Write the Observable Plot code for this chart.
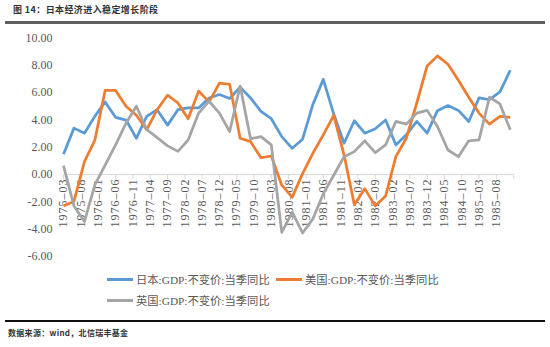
<!DOCTYPE html>
<html><head><meta charset="utf-8">
<script src="https://cdn.jsdelivr.net/npm/d3@7"></script>
<script src="https://cdn.jsdelivr.net/npm/@observablehq/plot@0.6"></script>
<style>
html,body{margin:0;padding:0;background:#fff}
body{width:550px;height:347px;position:relative;overflow:hidden;font-family:"Liberation Serif","Noto Sans CJK SC",serif}
#title{position:absolute;left:13px;top:3.5px;font-family:"Noto Sans CJK SC",sans-serif;font-weight:bold;font-size:9px;line-height:11px;color:#333;letter-spacing:0.4px;white-space:nowrap}
#tline{position:absolute;left:5px;top:21px;width:540px;height:2.5px;background:#5f5f5f}
#chart{position:absolute;left:0;top:25px}
.sw{position:absolute;width:26px;height:3px}
.lt{position:absolute;font-size:11.3px;line-height:14px;color:#595959;white-space:nowrap;font-family:"Liberation Serif","Noto Sans CJK SC",serif}
#bline{position:absolute;left:5px;top:320px;width:540px;height:1.5px;background:#111}
#caption{position:absolute;left:8px;top:327.5px;font-family:"Noto Sans CJK SC",sans-serif;font-weight:bold;font-size:8px;line-height:10px;color:#333;letter-spacing:0.3px;white-space:nowrap}
svg text.xlab{letter-spacing:1px}
</style></head><body>
<div id="title">图 14：日本经济进入稳定增长阶段</div>
<div id="tline"></div>
<div id="chart"></div>
<div class="sw" style="left:107px;top:278px;background:#5b9bd5"></div>
<div class="lt" style="left:136px;top:272.5px">日本:GDP:不变价:当季同比</div>
<div class="sw" style="left:276px;top:278px;background:#ed7d31"></div>
<div class="lt" style="left:305px;top:272.5px">美国:GDP:不变价:当季同比</div>
<div class="sw" style="left:107px;top:299px;background:#a5a5a5"></div>
<div class="lt" style="left:136px;top:293.5px">英国:GDP:不变价:当季同比</div>
<div id="bline"></div>
<div id="caption">数据来源：wind，北信瑞丰基金</div>
<script>
const quarters = ["1975-03","1975-06","1975-09","1975-12","1976-03","1976-06","1976-09","1976-12",
"1977-03","1977-06","1977-09","1977-12","1978-03","1978-06","1978-09","1978-12",
"1979-03","1979-06","1979-09","1979-12","1980-03","1980-06","1980-09","1980-12",
"1981-03","1981-06","1981-09","1981-12","1982-03","1982-06","1982-09","1982-12",
"1983-03","1983-06","1983-09","1983-12","1984-03","1984-06","1984-09","1984-12",
"1985-03","1985-06","1985-09","1985-12"];
const japan = [1.48,3.40,3.03,4.26,5.32,4.19,3.99,2.66,4.26,4.75,3.62,4.75,4.88,4.88,5.61,5.86,
5.57,6.40,5.61,4.63,4.09,2.78,1.92,2.59,5.12,6.97,4.43,2.29,3.94,3.03,3.35,3.99,
2.17,2.91,3.89,3.03,4.68,5.05,4.70,3.89,5.61,5.49,6.06,7.64];
const usa = [-2.31,-1.97,0.95,2.50,6.16,6.16,5.00,4.34,3.28,4.75,5.81,5.24,4.09,6.11,5.32,6.70,
6.60,2.66,2.41,1.23,1.36,-0.78,-1.65,0.07,1.55,2.91,4.34,1.43,-2.21,-1.03,-2.31,-1.57,
1.31,2.66,5.24,7.95,8.69,8.08,6.90,5.66,4.50,3.69,4.26,4.19];
const uk = [0.66,-2.30,-3.44,-0.78,0.69,2.17,3.77,5.00,3.30,2.70,2.10,1.70,2.53,4.50,5.37,4.50,
3.15,6.48,2.61,2.78,2.17,-4.23,-2.75,-4.28,-3.25,-1.40,-0.05,1.31,1.68,2.47,1.60,2.17,
3.89,3.69,4.50,4.70,3.52,1.80,1.31,2.47,2.54,5.66,5.17,3.28];
const seriesNames = ["日本:GDP:不变价:当季同比","美国:GDP:不变价:当季同比","英国:GDP:不变价:当季同比"];
const seriesColors = ["#5b9bd5","#ed7d31","#a5a5a5"];
const xTickLabels = ["1975-03","1975-08","1976-01","1976-06","1976-11","1977-04","1977-09","1978-02",
"1978-07","1978-12","1979-05","1979-10","1980-03","1980-08","1981-01","1981-06","1981-11","1982-04",
"1982-09","1983-02","1983-07","1983-12","1984-05","1984-10","1985-03","1985-08"];
const xAxisEnd = "1986-01";
const yTicks = [-6,-4,-2,0,2,4,6,8,10];

const parse = s => { const [y,m] = s.split("-").map(Number); return new Date(Date.UTC(y, m-1, 1)); };
const values = [japan, usa, uk];
const rows = [];
values.forEach((arr, si) => arr.forEach((v, i) => rows.push({date: parse(quarters[i]), value: v, s: si})));
const tickDates = xTickLabels.map(parse).concat([parse(xAxisEnd)]);
const labelRows = xTickLabels.map(t => ({date: parse(t), text: t.replace("-", "\u2013")}));

const chart = Plot.plot({
  width: 550, height: 245,
  marginLeft: 63, marginRight: 36.7, marginTop: 12.5, marginBottom: 14,
  style: {background: "transparent", fontFamily: "Liberation Serif, serif", fontSize: "12px", color: "#595959", overflow: "visible"},
  x: {type: "utc", domain: [parse(quarters[0]), parse(xAxisEnd)], axis: null},
  y: {domain: [-6, 10], axis: null},
  marks: [
    Plot.axisY({ticks: yTicks, tickSize: 0, tickPadding: 11, tickFormat: d => d.toFixed(2), fontSize: 12, label: null, fill: "#595959"}),
    Plot.ruleY([0], {stroke: "#d9d9d9", strokeWidth: 1}),
    Plot.ruleX(tickDates, {x: d => d, y1: 0, y2: 0, insetBottom: -5, stroke: "#d9d9d9"}),
    Plot.text(labelRows, {x: "date", y: 0, text: "text", rotate: -90, textAnchor: "end", dy: 4, fontSize: 12, fill: "#595959", fontFamily: "Liberation Serif, serif"}),
    ...[0,1,2].map(si => Plot.line(rows.filter(r => r.s === si), {x: "date", y: "value", stroke: seriesColors[si], strokeWidth: 2.75, strokeLinejoin: "round", strokeLinecap: "butt"}))
  ]
});
d3.select(chart).selectAll("g[aria-label='text'] text").attr("class", "xlab");
document.getElementById("chart").appendChild(chart);
</script>
</body></html>
